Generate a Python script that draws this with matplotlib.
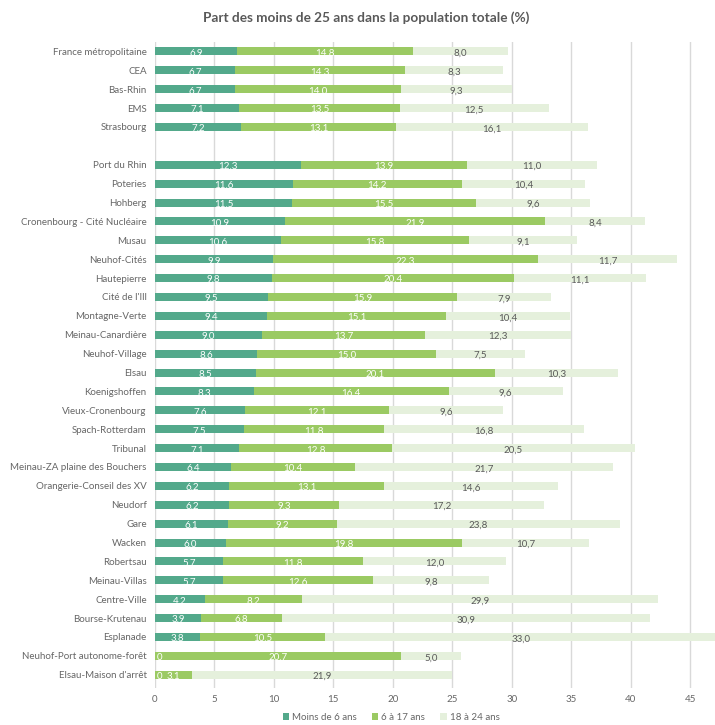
import matplotlib.pyplot as plt
import numpy as np

plt.rcParams['font.family'] = ['Lato', 'DejaVu Sans']

# niveaux de reference
ref_noms = ["France métropolitaine", "CEA", "Bas-Rhin", "EMS", "Strasbourg"]
ref_moins6 = [6.9, 6.7, 6.7, 7.1, 7.2]
ref_6a17 = [14.8, 14.3, 14.0, 13.5, 13.1]
ref_18a24 = [8.0, 8.3, 9.3, 12.5, 16.1]

# quartiers
q_noms = ["Port du Rhin", "Poteries", "Hohberg", "Cronenbourg - Cité Nucléaire",
          "Musau", "Neuhof-Cités", "Hautepierre", "Cité de l'Ill", "Montagne-Verte",
          "Meinau-Canardière", "Neuhof-Village", "Elsau", "Koenigshoffen",
          "Vieux-Cronenbourg", "Spach-Rotterdam", "Tribunal",
          "Meinau-ZA plaine des Bouchers", "Orangerie-Conseil des XV", "Neudorf",
          "Gare", "Wacken", "Robertsau", "Meinau-Villas", "Centre-Ville",
          "Bourse-Krutenau", "Esplanade", "Neuhof-Port autonome-forêt",
          "Elsau-Maison d'arrêt"]
q_moins6 = [12.3, 11.6, 11.5, 10.9, 10.6, 9.9, 9.8, 9.5, 9.4, 9.0, 8.6, 8.5, 8.3,
            7.6, 7.5, 7.1, 6.4, 6.2, 6.2, 6.1, 6.0, 5.7, 5.7, 4.2, 3.9, 3.8, 0, 0]
q_6a17 = [13.9, 14.2, 15.5, 21.9, 15.8, 22.3, 20.4, 15.9, 15.1, 13.7, 15.0, 20.1,
          16.4, 12.1, 11.8, 12.8, 10.4, 13.1, 9.3, 9.2, 19.8, 11.8, 12.6, 8.2, 6.8,
          10.5, 20.7, 3.1]
q_18a24 = [11.0, 10.4, 9.6, 8.4, 9.1, 11.7, 11.1, 7.9, 10.4, 12.3, 7.5, 10.3, 9.6,
           9.6, 16.8, 20.5, 21.7, 14.6, 17.2, 23.8, 10.7, 12.0, 9.8, 29.9, 30.9,
           33.0, 5.0, 21.9]

series = ["Moins de 6 ans", "6 à 17 ans", "18 à 24 ans"]
couleurs = ["#53A98B", "#9BCA63", "#E5F0DC"]

noms = ref_noms + q_noms
vals = np.array([ref_moins6 + q_moins6, ref_6a17 + q_6a17, ref_18a24 + q_18a24])
# ligne vide entre les deux groupes
pos = np.r_[np.arange(len(ref_noms)), np.arange(len(q_noms)) + len(ref_noms) + 1]

fig = plt.figure(figsize=(7.15, 7.25), dpi=100)
ax = fig.add_axes([155/715, 1 - 688/725, 560/715, 646/725])

gauche = np.zeros(len(noms))
for k in range(3):
    ax.barh(pos, vals[k], left=gauche, height=0.42, color=couleurs[k],
            label=series[k], zorder=2)
    for y, l, v in zip(pos, gauche, vals[k]):
        if k < 2:
            txt = "0" if v == 0 else f"{v:.1f}"
            c = "white"
        else:
            txt = f"{v:.1f}".replace('.', ',')
            c = "#595959"
        x = l + v / 2
        ax.text(x if v > 0 else 0.15, y + 0.1, txt, ha='center' if v > 0 else 'left',
                va='center', fontsize=7, color=c, zorder=3)
    gauche = gauche + vals[k]

ax.set_yticks(pos)
ax.set_yticklabels(noms, fontsize=7, color="#666666")
ax.set_xlim(0, 47.1)
ax.set_ylim(33.7, -0.5)
ax.set_xticks(np.arange(0, 46, 5))
ax.tick_params(axis='x', labelsize=7, colors="#666666", length=0, pad=5)
ax.tick_params(axis='y', length=0, pad=6)
ax.grid(axis='x', color="#D9D9D9", linewidth=1, zorder=0)
for s in ax.spines.values():
    s.set_visible(False)

fig.suptitle("Part des moins de 25 ans dans la population totale (%)", x=366/715, y=0.985,
             fontsize=9.8, fontweight='bold', color="#595959")
fig.legend(loc='center', bbox_to_anchor=(391/715, 1 - 717/725), ncol=3, frameon=False,
           fontsize=7, labelcolor="#666666", handlelength=0.7, handleheight=0.7,
           handletextpad=0.3, columnspacing=1.5)

fig.savefig("out.png", dpi=100)
